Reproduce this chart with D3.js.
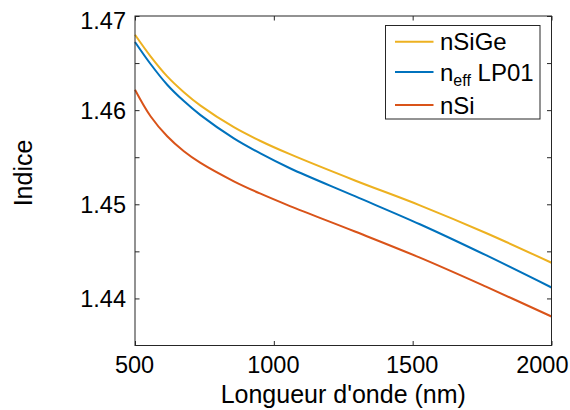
<!DOCTYPE html>
<html>
<head>
<meta charset="utf-8">
<script src="https://cdn.jsdelivr.net/npm/d3@7"></script>
<style>
  html, body { margin: 0; padding: 0; background: #fff; }
  svg { display: block; }
  text { font-family: "Liberation Sans", Arial, sans-serif; fill: #000; }
</style>
</head>
<body>
<svg id="chart" width="570" height="410"></svg>
<script>
// ---- data ----
const wavelengths = [500, 556, 616, 676, 736, 856, 950, 1058, 1292, 1526, 1764, 2000];
const nSiGe    = [1.46801, 1.46572, 1.46359, 1.46191, 1.46048, 1.45819, 1.45675, 1.45532, 1.45253, 1.44989, 1.44695, 1.44379];
const neffLP01 = [1.46724, 1.46490, 1.46270, 1.46096, 1.45947, 1.45700, 1.45543, 1.45383, 1.45086, 1.44788, 1.44459, 1.44116];
const nSi      = [1.46217, 1.45935, 1.45722, 1.45563, 1.45439, 1.45244, 1.45115, 1.44981, 1.44711, 1.44433, 1.44125, 1.43808];
const xTicks = [500, 1000, 1500, 2000];
const yTicks = [1.44, 1.445, 1.45, 1.455, 1.46, 1.465, 1.47];
const yTickLabels = [1.44, 1.45, 1.46, 1.47];
const seriesNames = ["nSiGe", "neff LP01", "nSi"];
const seriesColors = ["#EDB120", "#0072BD", "#D95319"];

// ---- layout ----
const svg = d3.select("#chart");
const L = 135, R = 551.5, T = 16, B = 345.5;
const x = d3.scaleLinear().domain([500, 2000]).range([L, R]);
const y = d3.scaleLinear().domain([1.435, 1.47]).range([B, T]);
const axisColor = "#262626";

// lines
const series = [nSiGe, neffLP01, nSi];
const line = d3.line().x((d, i) => x(wavelengths[i])).y(d => y(d)).curve(d3.curveCatmullRom.alpha(0.5));
series.forEach((s, k) => {
  svg.append("path").datum(s)
    .attr("d", line)
    .attr("fill", "none")
    .attr("stroke", seriesColors[k])
    .attr("stroke-width", 2);
});

// box
svg.append("rect").attr("x", L).attr("y", T).attr("width", R - L).attr("height", B - T)
  .attr("fill", "none").attr("stroke", axisColor).attr("stroke-width", 1);

// axes
const fmt = d => d3.format(".2f")(d);
const isLabelled = d => yTickLabels.some(v => Math.abs(v - d) < 1e-9);
const yAxisL = d3.axisLeft(y).tickValues(yTicks).tickSizeInner(-4.5).tickSizeOuter(0)
  .tickFormat(d => isLabelled(d) ? fmt(d) : "");
const yAxisR = d3.axisRight(y).tickValues(yTicks).tickSizeInner(-4.5).tickSizeOuter(0).tickFormat("");
const xAxisB = d3.axisBottom(x).tickValues(xTicks).tickSizeInner(-4.5).tickSizeOuter(0).tickFormat(d3.format("d"));
const xAxisT = d3.axisTop(x).tickValues(xTicks).tickSizeInner(-4.5).tickSizeOuter(0).tickFormat("");

function style(g) {
  g.select(".domain").remove();
  g.selectAll(".tick line").attr("stroke", axisColor).attr("stroke-width", 1);
  g.selectAll(".tick text").attr("fill", "#000")
    .style("font-family", '"Liberation Sans", Arial, sans-serif').style("font-size", "23.5px");
}
svg.append("g").attr("transform", `translate(${L},0)`).call(yAxisL).call(style)
  .selectAll(".tick text").attr("x", -9)
  .attr("dy", d => Math.abs(d - 1.47) < 1e-9 ? "0.53em" : "0.36em");
svg.append("g").attr("transform", `translate(${R},0)`).call(yAxisR).call(style);
svg.append("g").attr("transform", `translate(0,${B})`).call(xAxisB).call(style)
  .selectAll(".tick text").attr("y", 11).attr("dy", "0.72em")
  .attr("text-anchor", d => d === 2000 ? "end" : "middle")
  .attr("x", d => d === 2000 ? 568 - x(2000) : -1);
svg.append("g").attr("transform", `translate(0,${T})`).call(xAxisT).call(style);

// axis labels
svg.append("text").attr("x", (L + R) / 2).attr("y", 403)
  .attr("text-anchor", "middle").style("font-size", "25px").text("Longueur d'onde (nm)");
svg.append("text").attr("transform", "translate(32,173) rotate(-90)")
  .attr("text-anchor", "middle").style("font-size", "25px").text("Indice");

// legend
const lg = svg.append("g");
lg.append("rect").attr("x", 385.5).attr("y", 25.5).attr("width", 154.5).attr("height", 93.5)
  .attr("fill", "#fff").attr("stroke", axisColor).attr("stroke-width", 1);
const rowsY = [41.7, 72, 105];
seriesNames.forEach((name, k) => {
  lg.append("line").attr("x1", 395).attr("x2", 433.5).attr("y1", rowsY[k]).attr("y2", rowsY[k])
    .attr("stroke", seriesColors[k]).attr("stroke-width", 2);
  const t = lg.append("text").attr("x", 440).attr("y", rowsY[k]).attr("dy", "0.36em")
    .style("font-size", "24px");
  if (name === "neff LP01") {
    t.append("tspan").text("n");
    t.append("tspan").attr("dy", 5).style("font-size", "16px").text("eff");
    t.append("tspan").attr("dy", -5).text(" LP01");
  } else {
    t.text(name);
  }
});
</script>
</body>
</html>
